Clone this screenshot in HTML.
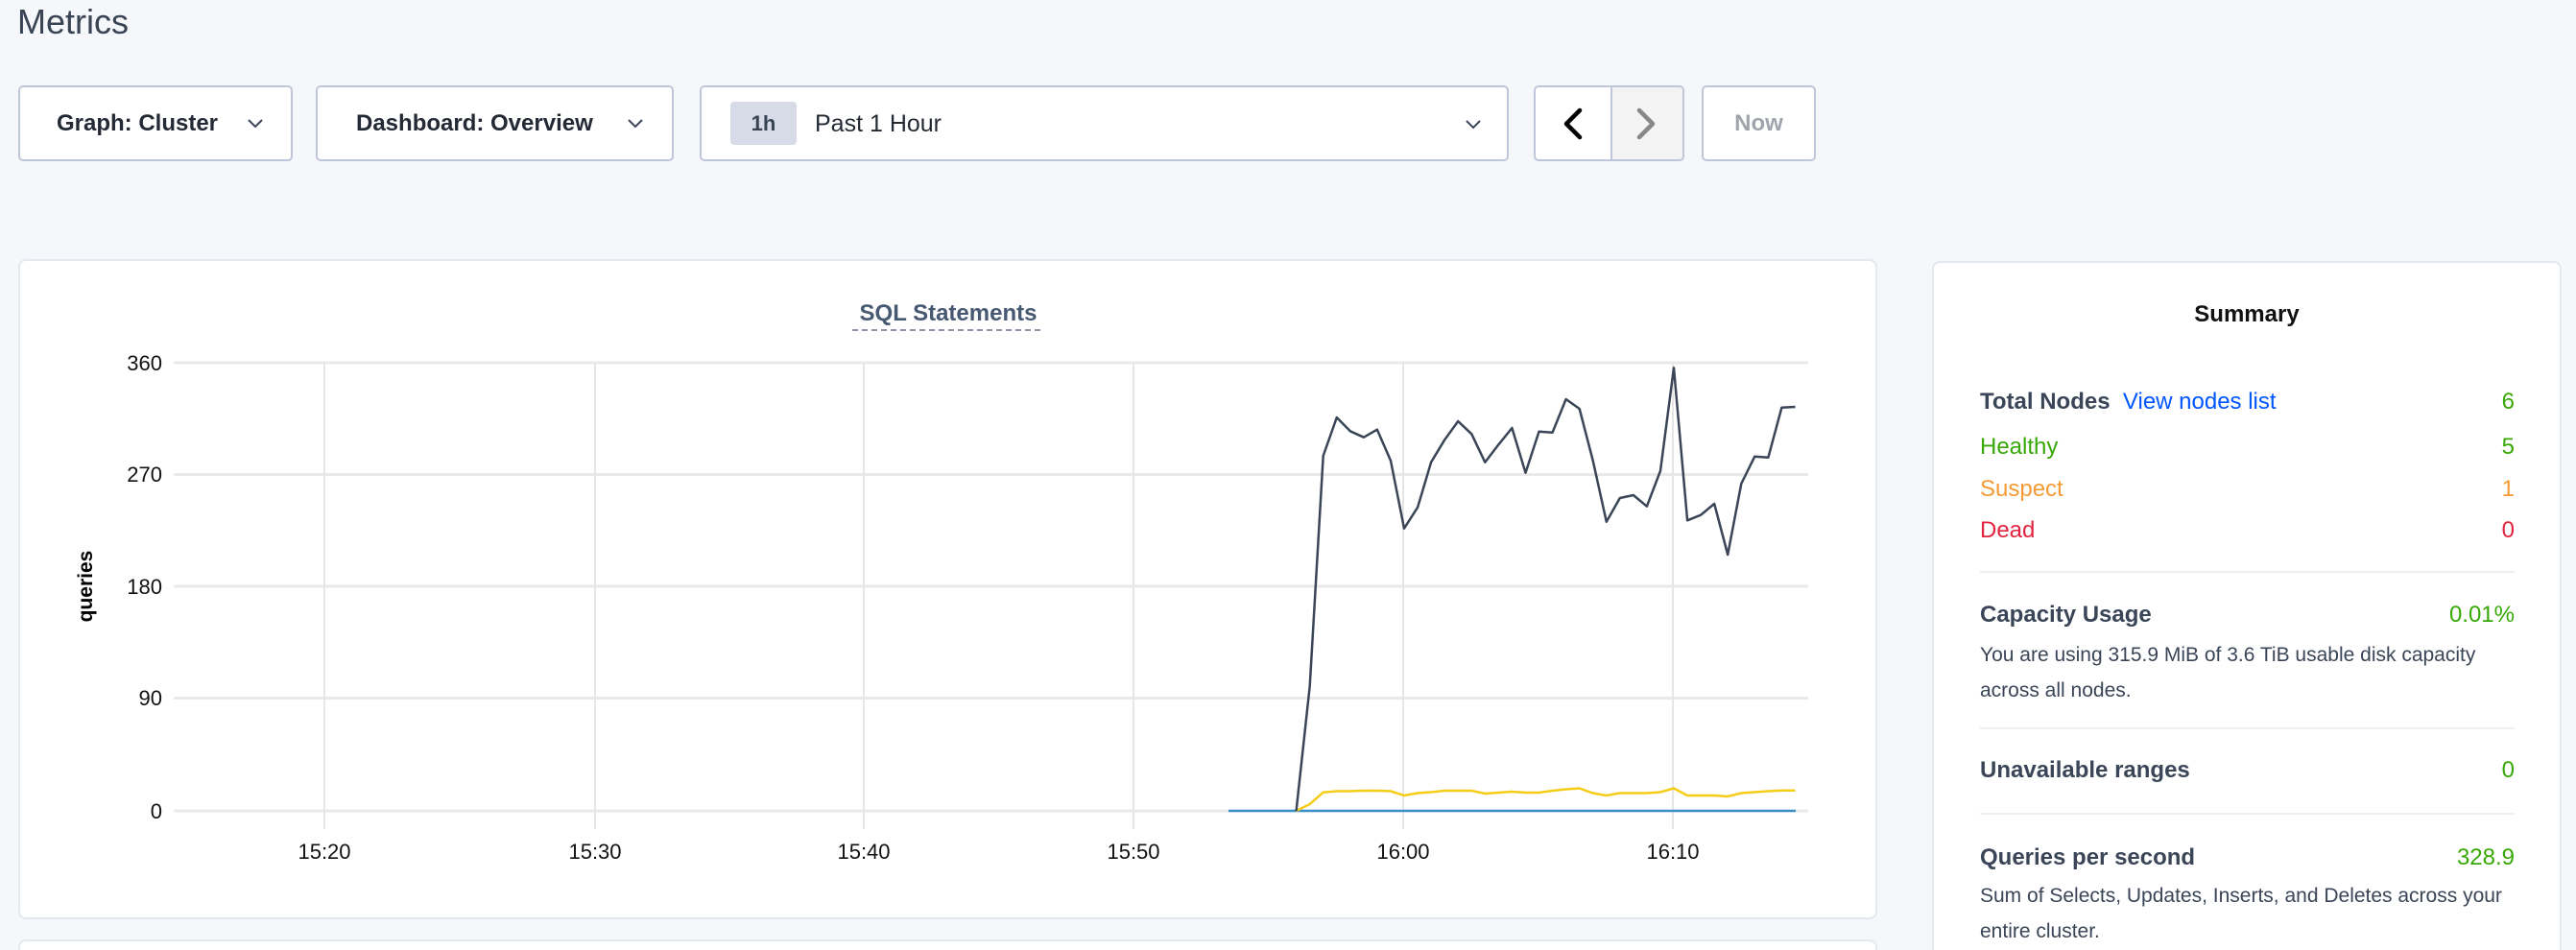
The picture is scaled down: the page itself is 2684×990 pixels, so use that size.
<!DOCTYPE html>
<html style="width:2684px;height:990px;overflow:hidden"><head><meta charset="utf-8"><style>
*{box-sizing:border-box;margin:0;padding:0}
body{width:2684px;height:990px;background:#f5f7fa;font-family:"Liberation Sans",sans-serif;position:relative;overflow:hidden;color:#394455}
.abs{position:absolute}
.btn{position:absolute;background:#fff;border:2px solid #c0c6d9;border-radius:5px;top:89px;height:79px;display:flex;align-items:center;font-weight:bold;font-size:24px;color:#242a35}
.panel{position:absolute;background:#fff;border:2px solid #e4e8ef;border-radius:8px}
.row{position:absolute;left:2063px;width:557px;display:flex;justify-content:space-between;font-size:24px}
.lbl{font-weight:bold;color:#3a4557}
.desc{position:absolute;left:2063px;font-size:21px;color:#3a4557;line-height:37px;width:545px}
.hr{position:absolute;left:2063px;width:557px;height:2px;background:#eef0f4}
</style></head><body>
<div class="abs" style="left:18px;top:2px;font-size:36px;color:#394455">Metrics</div>

<div class="btn" style="left:19px;width:286px;padding-left:38px">Graph: Cluster
<svg class="abs" style="left:236px;top:32px" width="18" height="12"><path d="M2 2 L9 9 L16 2" fill="none" stroke="#394455" stroke-width="2"/></svg></div>
<div class="btn" style="left:329px;width:373px;padding-left:40px">Dashboard: Overview
<svg class="abs" style="left:322px;top:32px" width="18" height="12"><path d="M2 2 L9 9 L16 2" fill="none" stroke="#394455" stroke-width="2"/></svg></div>
<div class="btn" style="left:729px;width:843px;font-weight:normal;color:#242a35">
<div class="abs" style="left:30px;top:15px;width:69px;height:45px;background:#d6dbe7;border-radius:4px;font-weight:bold;font-size:22px;text-align:center;line-height:45px;color:#394455">1h</div>
<div class="abs" style="left:118px;top:24px;font-size:25px">Past 1 Hour</div>
<svg class="abs" style="left:795px;top:33px" width="18" height="12"><path d="M2 2 L9 9 L16 2" fill="none" stroke="#394455" stroke-width="2"/></svg></div>
<div class="btn" style="left:1598px;width:157px;overflow:hidden">
<div class="abs" style="left:78px;top:0;width:79px;height:100%;background:#f3f3f3;border-left:2px solid #c0c6d9"></div>
<svg class="abs" style="left:24px;top:20px" width="30" height="36"><path d="M22 4 L8 18 L22 32" fill="none" stroke="#000" stroke-width="4.5" stroke-linecap="round" stroke-linejoin="round"/></svg>
<svg class="abs" style="left:100px;top:20px" width="30" height="36"><path d="M8 4 L22 18 L8 32" fill="none" stroke="#888" stroke-width="4.5" stroke-linecap="round" stroke-linejoin="round"/></svg>
</div>
<div class="btn" style="left:1773px;width:119px;justify-content:center;color:#a0a4ad">Now</div>

<div class="panel" style="left:19px;top:270px;width:1937px;height:688px"></div>
<div class="panel" style="left:19px;top:979px;width:1937px;height:11px;border-bottom:none;border-radius:8px 8px 0 0"></div>
<div class="panel" style="left:2013px;top:272px;width:656px;height:718px;border-bottom:none;border-radius:8px 8px 0 0"></div>

<svg class="abs" style="left:0;top:0" width="2684" height="990">
<text x="988" y="334" text-anchor="middle" font-size="24" font-weight="bold" fill="#475872" font-family="Liberation Sans">SQL Statements</text>
<line x1="888" y1="344" x2="1088" y2="344" stroke="#8a94a6" stroke-width="2" stroke-dasharray="6,4"/>
<g stroke="#e9e9e9" stroke-width="3">
<line x1="181" y1="378" x2="1884" y2="378"/><line x1="181" y1="494.5" x2="1884" y2="494.5"/><line x1="181" y1="611" x2="1884" y2="611"/><line x1="181" y1="727.5" x2="1884" y2="727.5"/><line x1="181" y1="845" x2="1884" y2="845"/>
</g>
<g stroke="#e6e6e6" stroke-width="2">
<line x1="338" y1="378" x2="338" y2="864"/><line x1="620" y1="378" x2="620" y2="864"/><line x1="900" y1="378" x2="900" y2="864"/><line x1="1181" y1="378" x2="1181" y2="864"/><line x1="1462" y1="378" x2="1462" y2="864"/><line x1="1743" y1="378" x2="1743" y2="864"/>
</g>
<g font-size="22" fill="#111" font-family="Liberation Sans" text-anchor="end">
<text x="169" y="386">360</text><text x="169" y="502">270</text><text x="169" y="619">180</text><text x="169" y="735">90</text><text x="169" y="853">0</text>
</g>
<g font-size="22" fill="#111" font-family="Liberation Sans" text-anchor="middle">
<text x="338" y="895">15:20</text><text x="620" y="895">15:30</text><text x="900" y="895">15:40</text><text x="1181" y="895">15:50</text><text x="1462" y="895">16:00</text><text x="1743" y="895">16:10</text>
</g>
<text transform="translate(96,611) rotate(-90)" text-anchor="middle" font-size="21" font-weight="bold" fill="#000" font-family="Liberation Sans">queries</text>
<line x1="1280" y1="845" x2="1871" y2="845" stroke="#3a8fc8" stroke-width="2.5"/>
<polyline fill="none" stroke="#f5cd19" stroke-width="2.5" points="1350.6,845 1364.7,838 1378.7,825.7 1392.8,824.5 1406.8,824.5 1420.9,824 1434.9,824 1449,824.5 1463,829 1477.1,826.5 1491.1,825.5 1505.2,824 1519.2,824 1533.3,824 1547.3,827 1561.4,826 1575.4,825 1589.5,826 1603.5,826 1617.6,824 1631.6,822.5 1645.7,821.5 1659.7,826.5 1673.8,829 1687.8,826.5 1701.9,826.5 1715.9,826.5 1730,825.5 1744,821.5 1758.1,829 1772.1,829 1786.2,829 1800.2,830 1814.3,826.5 1828.3,825.5 1842.4,824.5 1856.4,823.8 1870.5,823.8"/>
<polyline fill="none" stroke="#3a4557" stroke-width="2.5" stroke-linejoin="round" points="1350.6,845 1364.7,715 1378.7,475 1392.8,435 1406.8,449.3 1420.9,455.7 1434.9,447.7 1449,480 1463,550.7 1477.1,528.7 1491.1,481.7 1505.2,458.3 1519.2,439 1533.3,452.3 1547.3,481.7 1561.4,463.3 1575.4,446 1589.5,492.7 1603.5,449.7 1617.6,450.7 1631.6,416 1645.7,426 1659.7,480 1673.8,543.7 1687.8,519 1701.9,516 1715.9,527.7 1730,490.7 1744,383.3 1758.1,542.3 1772.1,536.7 1786.2,525 1800.2,578 1814.3,504 1828.3,475.7 1842.4,476.7 1856.4,424.7 1870.5,424"/>
</svg>

<div class="abs" style="left:2013px;top:314px;width:656px;text-align:center;font-size:24px;font-weight:bold;color:#111">Summary</div>
<div class="row" style="top:405px"><span><span class="lbl">Total Nodes</span>&nbsp;&nbsp;<span style="color:#0055ff">View nodes list</span></span><span style="color:#37a806">6</span></div>
<div class="row" style="top:452px;color:#37a806"><span>Healthy</span><span>5</span></div>
<div class="row" style="top:496px;color:#f59a34"><span>Suspect</span><span>1</span></div>
<div class="row" style="top:539px;color:#e2243f"><span>Dead</span><span>0</span></div>
<div class="hr" style="top:595px"></div>
<div class="row" style="top:627px"><span class="lbl">Capacity Usage</span><span style="color:#37a806">0.01%</span></div>
<div class="desc" style="top:664px">You are using 315.9 MiB of 3.6 TiB usable disk capacity across all nodes.</div>
<div class="hr" style="top:758px"></div>
<div class="row" style="top:789px"><span class="lbl">Unavailable ranges</span><span style="color:#37a806">0</span></div>
<div class="hr" style="top:847px"></div>
<div class="row" style="top:880px"><span class="lbl">Queries per second</span><span style="color:#37a806">328.9</span></div>
<div class="desc" style="top:915px">Sum of Selects, Updates, Inserts, and Deletes across your entire cluster.</div>
</body></html>
